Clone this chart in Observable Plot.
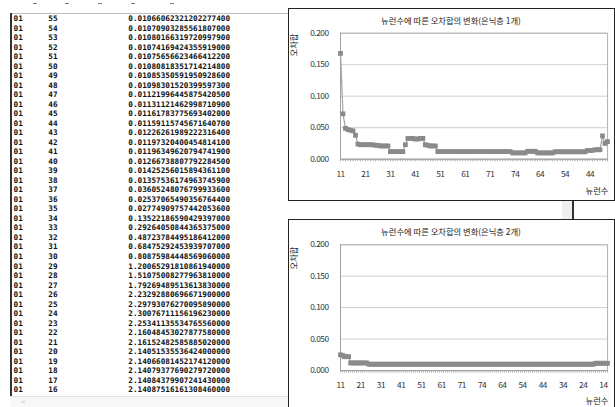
<!DOCTYPE html>
<html><head><meta charset="utf-8">
<script src="https://cdn.jsdelivr.net/npm/d3@7"></script>
<script src="https://cdn.jsdelivr.net/npm/@observablehq/plot@0.6"></script>
<style>
html,body{margin:0;padding:0;background:#fff}
body{width:615px;height:407px;overflow:hidden;position:relative;font-family:"Noto Sans CJK KR",sans-serif}
.a{position:absolute}
.row{position:absolute;font-family:"DejaVu Sans Mono",monospace;font-weight:bold;font-size:7.7px;line-height:10px;color:#111;white-space:pre}
.box{position:absolute;box-sizing:border-box;border:1.5px solid #222;background:#fff}
.ttl{position:absolute;font-size:8.3px;color:#222;white-space:nowrap;transform:translate(-50%,-50%)}
.chart svg text{letter-spacing:-0.5px}
</style></head><body>
<script>
// ---- text table (left pane) ----
const tableLayer = "01";
const tableNeurons = [55,54,53,52,51,50,49,48,47,46,45,44,43,42,41,40,39,38,37,36,35,34,33,32,31,30,29,28,27,26,25,24,23,22,21,20,19,18,17,16];
const tableErrors = [
"0.01066062321202277400","0.01070903285561807000","0.01080166319720997900","0.01074169424355919000",
"0.01075656623466412200","0.01080818351714214800","0.01085350591950928600","0.01098301520399597300",
"0.01121996445875420500","0.01131121462998710900","0.01161783775693402000","0.01159115745671640700",
"0.01226261989222316400","0.01197320400454814100","0.01196349620794741900","0.01266738807792284500",
"0.01425256015894361100","0.01357536174963745900","0.03605248076799933600","0.02537065490356764400",
"0.02774909757442053600","0.13522186590429397000","0.29264050844365375000","0.48723784495186412000",
"0.68475292453939707000","0.80875984448569060000","1.20065291810861940000","1.51075008277963810000",
"1.79269489513613830000","2.23292880696671900000","2.29793076270095890000","2.30076711156196230000",
"2.25341135534765560000","2.16048453027877580000","2.16152482585885020000","2.14051535536424000000",
"2.14066081452174120000","2.14079377690279720000","2.14084379907241430000","2.14087516161308460000"];

// ---- chart 1: hidden layer 1 ----
const title1 = "뉴런수에 따른 오차합의 변화(은닉층 1개)";
const neurons1 = [
11,12,13,14,15,16,17,18,19,20,21,22,23,24,25,26,27,28,29,30,
31,32,33,34,35,36,37,38,39,40,41,42,43,44,45,46,47,48,49,50,
51,52,53,54,55,56,57,58,59,60,61,62,63,64,65,66,67,68,69,70,
71,72,73,74,75,76,77,
77,76,75,74,73,72,71,70,69,68,67,66,65,64,63,62,61,60,59,58,
57,56,55,54,53,52,51,50,49,48,47,46,45,44,43,42,41,40,39,38,37];
const error1 = [
0.168,0.072,0.049,0.047,0.046,0.045,0.038,
0.024,0.023,0.023,0.023,0.023,0.023,0.023,0.022,0.022,0.021,0.021,0.021,0.021,
0.012,0.012,0.012,0.012,0.012,0.012,
0.023,
0.033,0.033,0.033,0.032,0.032,0.033,0.033,
0.023,0.022,0.021,0.021,0.021,
0.012,0.012,0.012,0.012,0.012,0.012,0.012,0.012,0.012,0.012,
0.012,0.012,0.012,0.012,0.012,0.012,0.012,0.012,0.012,0.012,
0.012,0.012,0.012,0.012,0.012,0.012,0.012,0.012,0.012,0.012,
0.010,0.010,0.010,0.010,0.010,0.010,
0.0125,0.0125,0.0125,0.0125,
0.010,0.010,0.010,0.010,0.010,0.010,0.010,
0.0118,0.0118,0.0118,0.0118,0.0118,0.0118,0.0118,0.0118,0.0118,0.0118,0.0118,0.0118,0.0118,
0.014,0.014,0.014,0.015,0.015,0.015,
0.037,0.025,0.028];

// ---- chart 2: hidden layers 2 ----
const title2 = "뉴런수에 따른 오차합의 변화(은닉층 2개)";
const neurons2 = [
11,12,13,14,15,16,17,18,19,20,21,22,23,24,25,26,27,28,29,30,
31,32,33,34,35,36,37,38,39,40,41,42,43,44,45,46,47,48,49,50,
51,52,53,54,55,56,57,58,59,60,61,62,63,64,65,66,67,68,69,70,
71,72,73,74,75,76,77,
77,76,75,74,73,72,71,70,69,68,67,66,65,64,63,62,61,60,59,58,
57,56,55,54,53,52,51,50,49,48,47,46,45,44,43,42,41,40,39,38,
37,36,35,34,33,32,31,30,29,28,27,26,25,24,23,22,21,20,19,18,
17,16,15,14,13,12];
const error2 = [
0.025,0.024,0.022,0.022,0.022,
0.012,0.012,0.012,0.012,0.012,0.012,0.012,0.012,0.012,
0.010,0.010,0.010,0.010,0.010,0.010,0.010,0.010,0.010,0.010,0.010,0.010,0.010,0.010,0.010,0.010,
0.010,0.010,0.010,0.010,0.010,0.010,0.010,0.010,0.010,0.010,0.010,0.010,0.010,0.010,0.010,0.010,
0.010,0.010,0.010,0.010,0.010,0.010,0.010,0.010,0.010,0.010,0.010,0.010,0.010,0.010,0.010,0.010,
0.010,0.010,0.010,0.010,0.010,0.010,0.010,0.010,0.010,0.010,0.010,0.010,0.010,0.010,0.010,0.010,
0.010,0.010,0.010,0.010,0.010,0.010,0.010,0.010,0.010,0.010,0.010,0.010,0.010,0.010,0.010,0.010,
0.010,0.010,0.010,0.010,0.010,0.010,0.010,0.010,0.010,0.010,0.010,0.010,0.010,0.010,0.010,0.010,
0.010,0.010,0.010,0.010,0.010,0.010,0.010,0.010,0.010,0.010,0.010,0.010,0.010,0.010,0.010,0.010,
0.0115,0.0115,0.0115,0.0115,0.0115,0.0115,0.0115];

const yTicks = [0, 0.05, 0.1, 0.15, 0.2];
const yTitle = "오차합";
const xTitle = "뉴런수";

function el(tag, cls, css, text) {
  const e = document.createElement(tag);
  if (cls) e.className = cls;
  Object.assign(e.style, css || {});
  if (text != null) e.textContent = text;
  document.body.appendChild(e);
  return e;
}

// left text pane
el("div", "a", {left: "10px", top: "13px", width: "278px", height: "1px", background: "#bdbdbd"});
el("div", "a", {left: "10px", top: "13px", width: "1.6px", height: "383px", background: "#333"});
[33, 65, 98, 131, 170].forEach(x => el("div", "a", {left: x + "px", top: "3px", width: "4px", height: "1px", background: "#777"}));
tableNeurons.forEach((n, i) => {
  const top = 19 + 9.52 * i - 5;
  el("div", "row", {left: "13.5px", top: top + "px"}, tableLayer);
  el("div", "row", {left: "48.3px", top: top + "px"}, String(n));
  el("div", "row", {left: "128.3px", top: top + "px"}, tableErrors[i]);
});
el("div", "a", {left: "10px", top: "396px", width: "278px", height: "11px", background: "#f8f8f8", borderTop: "1px solid #e2e2e2"});
el("div", "a", {left: "21px", top: "397px", fontSize: "8px", color: "#bbb", lineHeight: "9px"}, "<");

// connector between chart boxes
el("div", "a", {left: "562px", top: "201px", width: "10px", height: "18px", background: "#efefef"});
el("div", "a", {left: "572px", top: "200px", width: "2px", height: "20px", background: "#333"});

function makeChart(neurons, errors, box) {
  const data = neurons.map((n, i) => ({i, n, e: errors[i]}));
  const idx = data.map(d => d.i);
  const labelIdx = idx.filter(i => i % 10 === 0);
  return Plot.plot({
    width: box.w, height: box.h,
    marginLeft: box.ml, marginRight: box.mr, marginTop: box.mt, marginBottom: box.mb,
    style: {fontFamily: '"Noto Sans CJK KR", sans-serif', fontSize: "8.3px", color: "#333", background: "transparent", overflow: "visible"},
    x: {type: "linear", domain: [0, neurons.length - 1]},
    y: {domain: [0, 0.2]},
    marks: [
      Plot.gridY(yTicks.slice(1), {stroke: "#cfcfcf", strokeOpacity: 1}),
      Plot.frame({stroke: "#b5b5b5"}),
      Plot.ruleX([0], {stroke: "#a0a0a0"}),
      Plot.axisY(yTicks, {tickSize: 0, tickPadding: 12, tickFormat: d3.format(".3f"), label: null}),
      Plot.axisX(idx, {tickSize: 2.5, tickFormat: () => "", stroke: "#a8a8a8", label: null}),
      Plot.axisX(labelIdx, {tickSize: 0, tickPadding: 11.5, tickFormat: i => neurons[i], label: null}),
      Plot.ruleY([0], {stroke: "#a0a0a0"}),
      Plot.line(data, {x: "i", y: "e", stroke: "#a3a3a3", strokeWidth: 1.2}),
      Plot.dot(data, {x: "i", y: "e", symbol: "square", r: 2.7, fill: "#8a8a8a", stroke: "none"})
    ]
  });
}

function placeChart(neurons, errors, title, top, h, mt, mb, titleY, yTitleY, xTitleY) {
  el("div", "box", {left: "288px", top: top + "px", width: "327px", height: h + "px"});
  const holder = el("div", "a chart", {left: "288px", top: top + "px"});
  holder.appendChild(makeChart(neurons, errors, {w: 327, h, ml: 52, mr: 8, mt, mb}));
  el("div", "ttl", {left: "451px", top: titleY + "px"}, title);
  el("div", "ttl", {left: "293px", top: yTitleY + "px", transform: "translate(-50%,-50%) rotate(-90deg)"}, yTitle);
  el("div", "ttl", {left: "597px", top: xTitleY + "px"}, xTitle);
}

placeChart(neurons1, error1, title1, 8, 193, 24.7, 42.3, 20, 45, 190);
placeChart(neurons2, error2, title2, 219, 200, 25.3, 49, 231, 258, 400);
</script>
</body></html>
